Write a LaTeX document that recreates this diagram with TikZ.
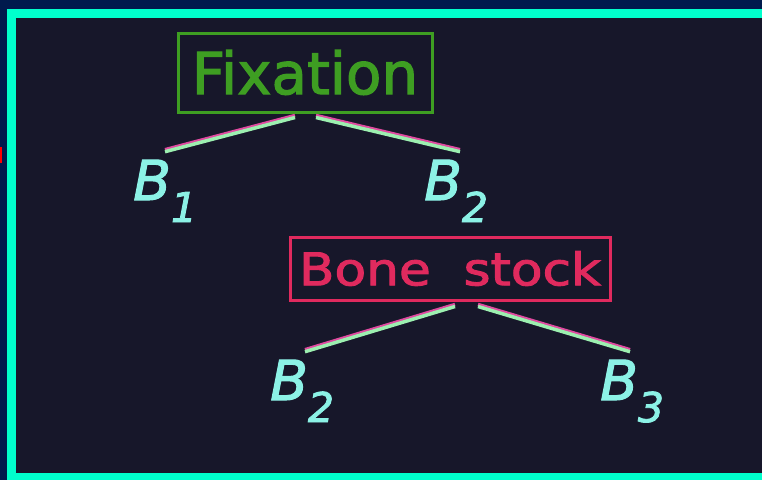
\documentclass[tikz,border=0pt]{standalone}
\usepackage{fontspec}
\setmainfont{DejaVu Sans}[FakeBold=2]
\usetikzlibrary{calc}
\definecolor{navy}{HTML}{001A4D}
\definecolor{frame}{HTML}{00FFCC}
\definecolor{screen}{HTML}{17172A}
\definecolor{fixgreen}{HTML}{3E9E22}
\definecolor{bonered}{HTML}{E02A5E}
\definecolor{bcyan}{HTML}{8CF2E6}
\definecolor{linepink}{HTML}{E04AA0}
\definecolor{linegreen}{HTML}{9CF0B0}
\newcommand{\bsub}[1]{\itshape B\raisebox{-22pt}{\fontsize{41}{41}\selectfont\itshape #1}}

\begin{document}
\begin{tikzpicture}[x=1pt,y=-1pt,
    headbox/.style={draw=#1,text=#1,line width=3pt,inner sep=0pt},
    leaf/.style={text=bcyan,anchor=base west,inner sep=0pt,font=\fontsize{55}{55}\selectfont},
    branch/.style={draw=linegreen,line width=3.5pt,
      preaction={draw=linepink,line width=3.5pt,transform canvas={yshift=2pt}}}]
    % screen and frame
    \fill[navy] (0,0) rectangle (762,480);
    \fill[frame] (7,9) rectangle (762,480);
    \fill[screen] (16,18) rectangle (762,473);
    \fill[red] (0,147) rectangle (2,163);
    % boxes
    \node[headbox=fixgreen,minimum width=254,minimum height=79] (fix) at (305,72.5)
        {\fontsize{58}{58}\selectfont Fixation};
    \node[headbox=bonered,minimum width=320,minimum height=63] (bone) at (450,268.5)
        {\scalebox{1.15}[1]{\fontsize{45}{45}\selectfont Bone\ \ stock}};
    % leaves
    \node[leaf] (b1) at (133,200) {\bsub{1}};
    \node[leaf] (b2) at (424,200) {\bsub{2}};
    \node[leaf] (b2b) at (270,400) {\bsub{2}};
    \node[leaf] (b3) at (600,400) {\bsub{3}};
    % branches
    \draw[branch] ($(fix.south)+(-10,4)$) -- ($(b1.north west)+(32,-8)$);
    \draw[branch] ($(fix.south)+(11,4)$) -- ($(b2.north west)+(36,-8)$);
    \draw[branch] ($(bone.south)+(5,5)$) -- ($(b2b.north west)+(35,-8)$);
    \draw[branch] ($(bone.south)+(28,5)$) -- ($(b3.north west)+(30,-8)$);
    \useasboundingbox (0,0) rectangle (762,480);
\end{tikzpicture}
\end{document}
